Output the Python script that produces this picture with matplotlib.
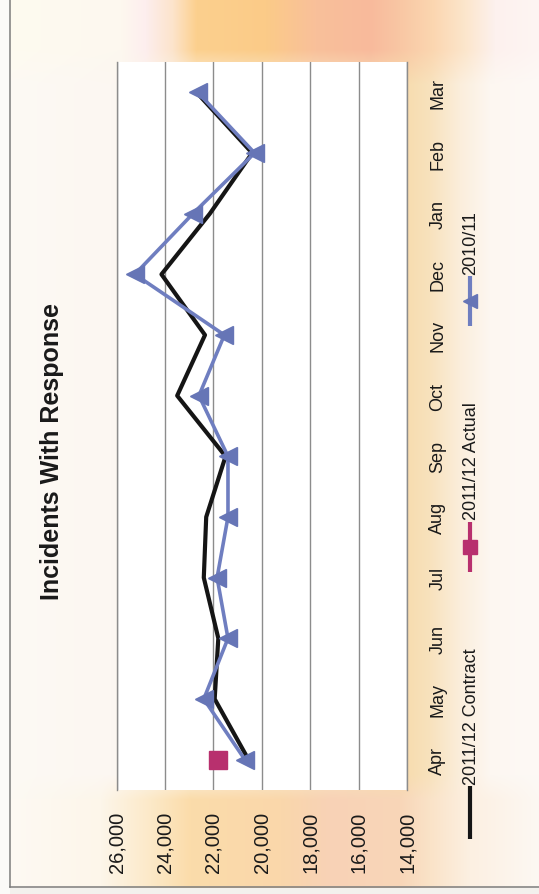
import numpy as np
import matplotlib
matplotlib.use("Agg")
import matplotlib.pyplot as plt
from matplotlib.colors import to_rgb

plt.rcParams["font.family"] = ["Liberation Sans", "DejaVu Sans"]

# ---- data -------------------------------------------------------------
months = ["Apr", "May", "Jun", "Jul", "Aug", "Sep", "Oct", "Nov", "Dec", "Jan", "Feb", "Mar"]
contract_2011_12 = [20550, 21950, 21800, 22400, 22300, 21500, 23500, 22350, 24150, 22150, 20400, 22700]
actual_2011_12 = [21800]                      # only April reported so far
actual_months = ["Apr"]
prior_2010_11 = [20700, 22400, 21400, 21850, 21400, 21400, 22600, 21550, 25250, 22850, 20300, 22650]
value_ticks = [14000, 16000, 18000, 20000, 22000, 24000, 26000]

title = "Incidents With Response"
series_names = ["2011/12 Contract", "2011/12 Actual", "2010/11"]

# ---- styling ----------------------------------------------------------
W, H = 539, 895
C_CONTRACT = "#151515"
C_ACTUAL = "#b8306e"
C_PRIOR = "#6f7ec0"
C_PRIOR_MK = "#6675b6"
C_GRID = "#8c8c8c"
C_TEXT = "#1a1a1a"


def profile(x, stops):
    xs = [s[0] for s in stops]
    cols = np.array([to_rgb(s[1]) for s in stops])
    return np.stack([np.interp(x, xs, cols[:, k]) for k in range(3)], axis=-1)


xx = np.arange(W)
top = profile(xx, [(0, "#fefbf0"), (120, "#fdf8ef"), (145, "#fdeeee"), (172, "#fce4cc"),
                   (196, "#fcd08e"), (265, "#fbcb88"), (315, "#f9c09a"), (370, "#f8ba9c"),
                   (400, "#f9c7a4"), (432, "#fbd6b0"), (465, "#fce6cc"), (495, "#fdf1ee"),
                   (539, "#fdf5f3")])
mid = profile(xx, [(0, "#fdfaf4"), (110, "#fcf7f2"), (405, "#f7dcae"), (430, "#f8e2bd"),
                   (460, "#fbeedc"), (490, "#fdf7f1"), (539, "#fdf9f6")])
bot = profile(xx, [(0, "#fdfaf4"), (100, "#fdf6ea"), (150, "#fce9c8"), (190, "#fbdcaa"),
                   (280, "#fad7ab"), (330, "#f8d2b6"), (400, "#f8d6b8"), (430, "#fae3c8"),
                   (470, "#fcf0e2"), (539, "#fdf8f3")])
yy = np.arange(H)[:, None, None]
w_top = np.clip((85 - yy) / 35.0, 0, 1)
w_bot = np.clip((yy - 775) / 25.0, 0, 1)
w_mid = 1 - w_top - w_bot
img = w_top * top[None] + w_mid * mid[None] + w_bot * bot[None]
img[889:, :, :] = to_rgb("#f3f1ed")
img[:, :10, :] = to_rgb("#fbfaf8")

fig = plt.figure(figsize=(W / 100, H / 100), dpi=100)

# full-figure layer in pixel units: background, frame, title and legend
bg = fig.add_axes([0, 0, 1, 1])
bg.imshow(img, extent=(0, W, H, 0), aspect="auto", interpolation="bilinear", zorder=0)
bg.set_xlim(0, W)
bg.set_ylim(H, 0)
bg.axis("off")
bg.plot([10, 10], [0, 888], color="#7c7c7c", lw=1.1)
bg.plot([10, W], [888, 888], color="#7c7c7c", lw=1.1)

bg.text(52, 452, title, rotation=90, ha="center", va="center",
        fontsize=18, fontweight="bold", color=C_TEXT)

# legend entries (stacked along the rotated axis)
lx = 470
bg.plot([lx, lx], [840, 787], color=C_CONTRACT, lw=3, solid_capstyle="butt")
bg.text(lx + 1, 785, series_names[0], rotation=90, ha="center", va="bottom",
        fontsize=13, color=C_TEXT)
bg.plot([lx, lx], [573, 523], color=C_ACTUAL, lw=3, solid_capstyle="butt")
bg.plot([lx], [548], marker="s", ms=10, color=C_ACTUAL)
bg.text(lx + 1, 520, series_names[1], rotation=90, ha="center", va="bottom",
        fontsize=13, color=C_TEXT)
bg.plot([lx, lx], [327, 277], color=C_PRIOR, lw=3, solid_capstyle="butt")
bg.plot([lx], [302], marker="<", ms=10, color=C_PRIOR_MK)
bg.text(lx + 1, 275, series_names[2], rotation=90, ha="center", va="bottom",
        fontsize=13, color=C_TEXT)

# ---- main chart: values run right-to-left, months bottom-to-top -----
left, right, top_px, bottom_px = 116.7, 407.0, 63.0, 791.0
ax = fig.add_axes([left / W, (H - bottom_px) / H, (right - left) / W, (bottom_px - top_px) / H])
ax.set_zorder(2)
ax.set_facecolor("white")

pos = np.arange(len(months))
ax.plot(contract_2011_12, pos, color=C_CONTRACT, lw=3, zorder=3)
ax.plot(prior_2010_11, pos, color=C_PRIOR, lw=2.6, marker="<", ms=13,
        mfc=C_PRIOR_MK, mec=C_PRIOR_MK, zorder=4)
ax.plot(actual_2011_12, [months.index(m) for m in actual_months], ls="none",
        marker="s", ms=12.5, color=C_ACTUAL, zorder=5)

ax.set_xlim(value_ticks[-1], value_ticks[0])
ax.set_ylim(-0.5, len(months) - 0.5)
ax.set_xticks(value_ticks)
ax.set_xticklabels([f"{v:,}" for v in value_ticks])
ax.set_yticks(pos)
ax.set_yticklabels(months)
ax.yaxis.tick_right()

ax.grid(axis="x", color=C_GRID, lw=1)
ax.set_axisbelow(True)
for side in ("top", "bottom"):
    ax.spines[side].set_visible(False)
for side in ("left", "right"):
    ax.spines[side].set_color(C_GRID)
    ax.spines[side].set_linewidth(1)

ax.tick_params(axis="x", length=0, pad=15, labelsize=14.5, labelcolor=C_TEXT, labelrotation=90)
ax.tick_params(axis="y", length=0, pad=16, labelsize=13, labelcolor=C_TEXT, labelrotation=90)
for t in ax.get_yticklabels():
    t.set_va("center")

fig.savefig("out.png", dpi=100)
